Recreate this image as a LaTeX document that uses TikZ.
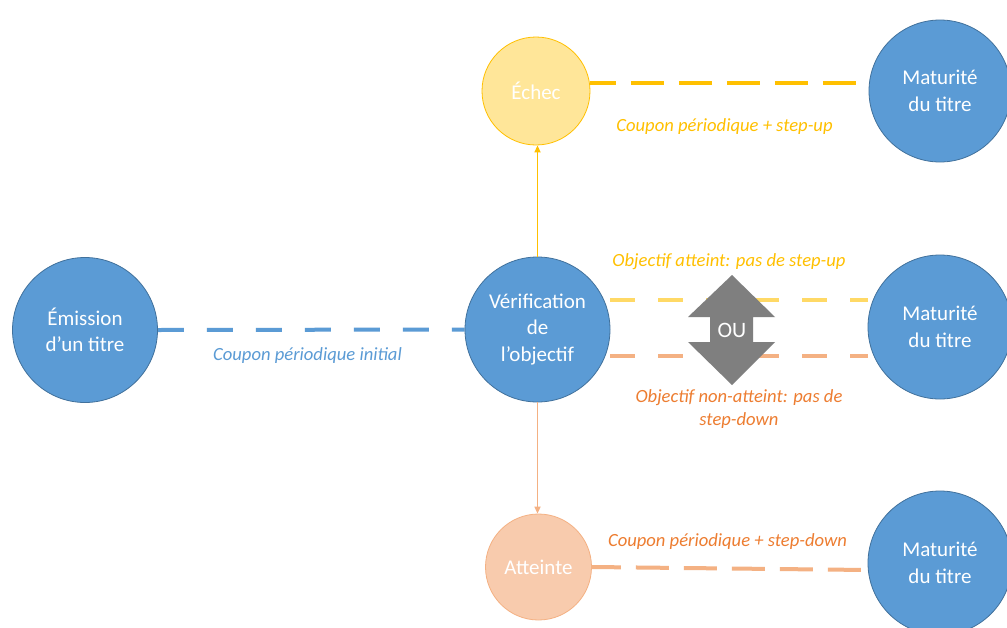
\documentclass[tikz,border=0pt]{standalone}
\usepackage{fontspec}
\setmainfont{Carlito}
\usetikzlibrary{arrows.meta,backgrounds}
\definecolor{cblue}{HTML}{5B9BD5}
\definecolor{cbluedark}{HTML}{41719C}
\definecolor{cyel}{HTML}{FFC000}
\definecolor{cyellight}{HTML}{FFD966}
\definecolor{cyelfill}{HTML}{FFE699}
\definecolor{corange}{HTML}{ED7D31}
\definecolor{corlight}{HTML}{F4B183}
\definecolor{corfill}{HTML}{F8CBAD}
\definecolor{cgray}{HTML}{7F7F7F}
\begin{document}
\begin{tikzpicture}[x=1pt,y=-1pt,
  bub/.style={circle, inner sep=0pt, text=white, align=center, font=\fontsize{21}{26.5}\selectfont},
  bluebub/.style={bub, fill=cblue, draw=cbluedark, line width=0.8pt, minimum size=#1},
  yelbub/.style={bub, fill=cyelfill, draw=cyel, line width=0.8pt, minimum size=108pt},
  orbub/.style={bub, fill=corfill, draw=corlight, line width=0.8pt, minimum size=106pt},
  lab/.style={font=\fontsize{18.6}{23}\selectfont\itshape, align=center, inner sep=0pt},
  dashA/.style={line width=4pt, dash pattern=on 26pt off 23pt},
  dashB/.style={line width=4pt, dash pattern=on 33pt off 15pt},
  dashC/.style={line width=3.5pt, dash pattern=on 25pt off 23pt},
  link/.style={line width=1.6pt, -{Triangle[length=7pt,width=6pt]}}
]
\useasboundingbox (0,0) rectangle (1007,627);

\node[bluebub=145pt] (emis) at (85,330) {Émission\\d’un titre};
\node[bluebub=145pt] (verif) at (537.5,329.5) {Vérification\\de\\l’objectif};
\node[yelbub] (echec) at (536,91) {Échec};
\node[orbub] (att) at (538.5,567) {Atteinte};
\node[bluebub=142pt] (mat1) at (940,91) {Maturité\\du titre};
\node[bluebub=144pt] (mat2) at (940,327) {Maturité\\du titre};
\node[bluebub=144pt] (mat3) at (940,563) {Maturité\\du titre};

\begin{scope}[on background layer]
  \fill[white] (0,0) rectangle (1007,627);
  \draw[cblue, dashA] (emis.east) -- (verif.west);
  \draw[cyel, dashB, dash phase=7pt] (echec.8) -- (echec.8 -| mat1.west);
  \draw[cyellight, dashC] ([yshift=29.5pt]verif.east) -- ([yshift=29.5pt]verif.east -| mat2.west);
  \draw[corlight, dashC] ([yshift=-26.5pt]verif.east) -- ([yshift=-26.5pt]verif.east -| mat2.west);
  \draw[corlight, dashB, dash phase=4pt] (att.east) -- ([yshift=-7pt]mat3.west);
\end{scope}

\draw[cyel, link] (verif.north) -- (verif.north |- echec.south);
\draw[corlight, link] (verif.south) -- (verif.south |- att.north);

\fill[cgray] (732,275) -- (775,317) -- (753,317) -- (753,342) -- (775,342) -- (732,385)
  -- (688,342) -- (710,342) -- (710,317) -- (688,317) -- cycle;
\node[text=white, font=\fontsize{22}{26}\selectfont, inner sep=0pt] (ou) at (732,330) {OU};

\node[lab, text=cblue] (l1) at (307.5,356) {Coupon périodique initial};
\node[lab, text=cyel] (l2) at (724.5,127) {Coupon périodique + step-up};
\node[lab, text=cyel] (l3) at (729,262) {Objectif atteint: pas de step-up};
\node[lab, text=corange] (l4) at (739,409.5) {Objectif non-atteint: pas de\\step-down};
\node[lab, text=corange] (l5) at (727.5,542) {Coupon périodique + step-down};
\end{tikzpicture}
\end{document}
